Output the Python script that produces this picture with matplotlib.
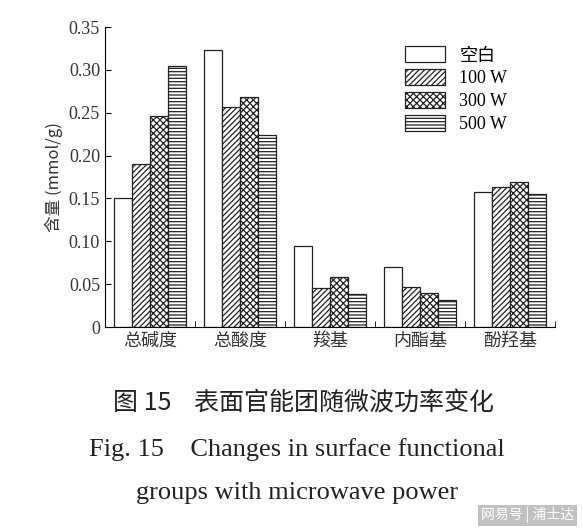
import matplotlib
matplotlib.use("Agg")
import matplotlib.pyplot as plt
import numpy as np

plt.rcParams['font.family'] = ['Liberation Serif', 'Noto Sans CJK SC']
plt.rcParams['hatch.linewidth'] = 0.9

categories = ['总碱度', '总酸度', '羧基', '内酯基', '酚羟基']
series_names = ['空白', '100 W', '300 W', '500 W']
blank = [0.150, 0.323, 0.094, 0.070, 0.158]
w100 = [0.190, 0.257, 0.046, 0.047, 0.163]
w300 = [0.246, 0.268, 0.058, 0.040, 0.169]
w500 = [0.304, 0.224, 0.038, 0.031, 0.155]
yticks = [0, 0.05, 0.10, 0.15, 0.20, 0.25, 0.30, 0.35]
ytick_labels = ['0', '0.05', '0.10', '0.15', '0.20', '0.25', '0.30', '0.35']

fig = plt.figure(figsize=(5.83, 5.30), dpi=100)
ax = fig.add_axes([0.18, 0.383, 0.772, 0.566])
x = np.arange(len(categories))
w = 0.2
hatches = ['', '//////', 'xxxxx', '-----']
for i, (vals, h) in enumerate(zip([blank, w100, w300, w500], hatches)):
    ax.bar(x - 0.3 + i * w, vals, w, color='white', edgecolor='#222', hatch=h,
           linewidth=0.9, label=series_names[i])
ax.set_xlim(-0.5, 4.5)
ax.set_ylim(0, 0.35)
ax.set_yticks(yticks)
ax.set_yticklabels(ytick_labels, fontsize=13, color='#333')
ax.set_xticks(x)
ax.set_xticklabels(categories, fontsize=13, family=['Noto Sans CJK SC'], color='#333')
ax.set_xticks(np.arange(-0.5, 4.6, 1), minor=True)
ax.tick_params(axis='x', which='major', length=0)
ax.tick_params(axis='x', which='minor', length=4, direction='in')
ax.tick_params(axis='y', direction='in', length=4)
ax.spines['top'].set_visible(False)
ax.spines['right'].set_visible(False)
ax.set_ylabel('含量 (mmol/g)', fontsize=12, family=['Noto Sans CJK SC', 'DejaVu Sans'], color='#333')
ax.legend(loc='upper right', bbox_to_anchor=(0.93, 0.99), frameon=False,
          handlelength=2.2, handleheight=1.0, labelspacing=0.25,
          prop={'family': ['Liberation Serif', 'Noto Sans CJK SC'], 'size': 13})

fig.text(0.52, 0.225, '图 15    表面官能团随微波功率变化', ha='center', fontsize=18,
         family=['Noto Sans CJK SC'], color='#222')
fig.text(0.51, 0.14, 'Fig. 15    Changes in surface functional', ha='center', fontsize=19, color='#222')
fig.text(0.51, 0.058, 'groups with microwave power', ha='center', fontsize=19, color='#222')
fig.text(0.985, 0.02, '网易号 | 浦士达', ha='right', fontsize=10, color='white',
         family=['Noto Sans CJK SC'],
         bbox=dict(facecolor='#999', alpha=0.6, edgecolor='none', pad=2))
fig.savefig('out.png', dpi=100)
